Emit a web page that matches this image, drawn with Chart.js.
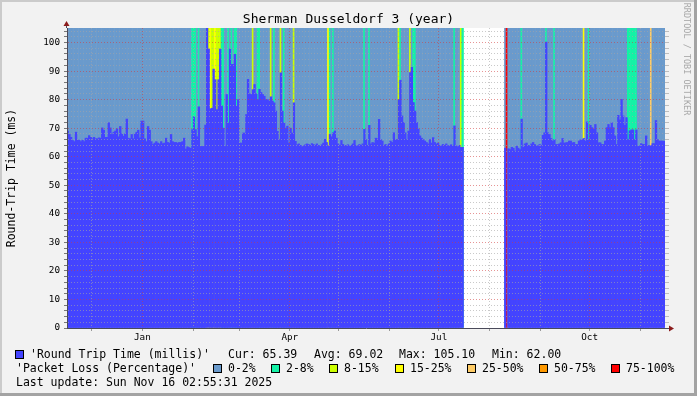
<!DOCTYPE html>
<html>
<head>
<meta charset="utf-8">
<script src="https://cdn.jsdelivr.net/npm/chart.js@4.4.1/dist/chart.umd.min.js"></script>
<style>
  html, body { margin: 0; padding: 0; background: #f2f2f2; }
  #wrap { position: relative; width: 697px; height: 396px; overflow: hidden; background: #f2f2f2;
          font-family: "DejaVu Sans Mono", monospace; color: #000; }
  #wrap canvas { position: absolute; left: 0; top: 0; }
  .edge { position: absolute; }
  .t { position: absolute; white-space: pre; font-size: 11.5px; line-height: 14px; }
  .sw { position: absolute; width: 7px; height: 7px; border: 1px solid #000; }
</style>
</head>
<body>
<div id="wrap">
  <canvas id="chart" width="697" height="396"></canvas>

  <div class="edge" style="left:0;top:0;width:697px;height:2px;background:#cbcbcb"></div>
  <div class="edge" style="left:0;top:0;width:2px;height:396px;background:#cbcbcb"></div>
  <div class="edge" style="left:694px;top:0;width:3px;height:396px;background:#a3a3a3"></div>
  <div class="edge" style="left:0;top:393px;width:697px;height:3px;background:#a3a3a3"></div>

  <div class="t" style="left:0;top:11px;width:697px;text-align:center;font-size:13px;line-height:16px">Sherman Dusseldorf 3 (year)</div>
  <div class="t" style="left:-89px;top:171px;width:200px;text-align:center;transform:rotate(-90deg)">Round-Trip Time (ms)</div>
  <div class="t" style="left:612px;top:53px;width:150px;text-align:center;font-size:8.5px;line-height:12px;color:#a8a8a8;transform:rotate(90deg)">RRDTOOL / TOBI OETIKER</div>

  <div id="legend"></div>
</div>

<script>
// ── Data ───────────────────────────────────────────────────────────────────
// one value per day, day 0 = Nov 16 2024

const TOP = 105.1;

const rttMillis = [
  69.0, 67.8, 66.8, 65.7, 65.3, 68.6, 65.8, 65.8, 65.3, 65.8, 65.3, 66.5, 66.5, 67.4, 66.8, 66.3, 66.8, 66.3, 66.3, 66.6, 66.5,
  70.1, 69.3, 66.8, 66.8, 71.9, 70.1, 67.8, 68.6, 69.0, 69.8,
  67.0, 70.6, 68.0, 67.2, 68.0, 73.2, 66.5, 66.3, 67.8, 66.3,
  68.0, 68.6, 69.3, 66.6, 72.5, 72.5, 66.3, 65.3, 70.6, 69.3,
  65.3, 64.3, 64.8, 65.3, 64.8, 64.5, 65.3, 64.6, 64.8, 66.5,
  65.0, 64.8, 67.8, 65.3, 65.0, 65.0, 64.8, 65.0, 65.0, 65.3,
  66.5, 62.7, 63.5, 63.2, 63.0, 69.5, 74.0, 69.5, 67.0, 77.5,
  63.6, 63.6, 63.6, 71.1, 105.1, 97.7, 76.8, 77.0, 90.7, 87.0,
  76.5, 87.0, 97.7, 77.8, 70.0, 63.6, 81.8, 71.8, 97.7, 92.4,
  92.4, 95.9, 77.7, 80.0, 64.8, 64.8, 68.3, 68.3, 74.8, 87.1,
  82.0, 81.8, 83.5, 85.3, 82.0, 80.0, 83.6, 82.5, 81.8, 81.2,
  80.0, 80.0, 79.5, 81.0, 79.5, 78.9, 76.0, 68.9, 66.0, 89.4,
  76.0, 71.8, 70.0, 70.7, 64.8, 70.0, 68.3, 78.9, 65.4, 64.2,
  64.5, 64.0, 63.5, 63.8, 64.2, 64.5, 64.3, 64.0, 64.6, 64.3,
  64.0, 64.5, 64.0, 63.7, 64.2, 64.8, 66.1, 65.0, 63.8, 67.8,
  67.0, 68.4, 69.0, 66.5, 64.5, 64.0, 65.7, 64.3, 64.0, 63.8,
  64.2, 63.7, 64.0, 64.5, 65.7, 64.0, 63.8, 64.3, 64.0, 64.5,
  69.6, 66.0, 64.0, 71.0, 64.5, 65.0, 64.8, 66.5, 66.3, 73.1,
  66.0, 65.5, 64.0, 64.3, 63.8, 64.5, 65.5, 65.0, 68.4, 66.0,
  66.0, 80.0, 86.8, 74.3, 72.0, 68.4, 66.0, 69.0, 89.5, 91.3,
  79.0, 76.0, 72.0, 69.7, 67.3, 66.5, 66.0, 65.5, 65.0, 64.5,
  66.0, 64.8, 66.7, 65.0, 64.5, 64.8, 64.0, 63.8, 64.3, 64.0,
  64.5, 63.8, 64.0, 64.2, 63.8, 70.8, 63.8, 63.5, 64.0, 63.3,
  63.3, null, null, null, null, null, null, null, null, null,
  null, null, null, null, null, null, null, null, null, null,
  null, null, null, null, null, null, 63.0, null, 62.8, 62.5,
  63.3, 63.0, 62.0, 63.7, 63.0, 62.5, 73.2, 63.3, 64.5, 64.8,
  64.0, 63.8, 64.5, 65.0, 64.3, 64.0, 63.7, 64.3, 64.0, 67.5,
  68.4, 100.2, 68.4, 67.8, 66.4, 65.5, 66.0, 64.3, 64.3, 64.5,
  64.9, 66.4, 64.8, 64.9, 65.0, 65.5, 65.5, 64.9, 65.0, 64.3,
  64.3, 65.5, 65.9, 66.0, 66.4, 65.5, 72.2, 65.9, 71.0, 70.2,
  69.6, 71.3, 68.4, 64.9, 64.9, 64.3, 64.3, 65.5, 70.2, 71.3,
  70.2, 71.9, 70.2, 67.3, 64.3, 74.5, 72.9, 80.1, 74.3, 71.0,
  73.7, 66.0, 69.1, 69.4, 69.4, 66.0, 69.4, 63.6, 63.8, 64.6,
  64.3, 64.3, 67.3, 63.9, 63.9, 63.9, 64.6, 64.6, 72.7, 66.0,
  65.5, 65.5, 65.5, 65.39,
];

// packet loss band per day: 0 = 0-2% ... 6 = 75-100%, null = no data
const lossLevel = [
  0, 0, 0, 0, 0, 0, 0, 0, 0, 0, 0, 0, 0, 0, 0, 0, 0, 0, 0, 0, 0,
  0, 0, 0, 0, 0, 0, 0, 0, 0, 0,
  0, 0, 0, 0, 0, 0, 0, 0, 0, 0,
  0, 0, 0, 0, 0, 0, 0, 0, 0, 0,
  0, 0, 0, 0, 0, 0, 0, 0, 0, 0,
  0, 0, 0, 0, 0, 0, 0, 0, 0, 0,
  0, 0, 0, 0, 0, 1, 1, 1, 0, 1,
  0, 0, 0, 0, 3, 2, 3, 2, 2, 3,
  2, 2, 2, 1, 1, 0, 0, 1, 0, 1,
  0, 1, 1, 0, 0, 0, 0, 0, 0, 0,
  0, 0, 2, 0, 0, 1, 1, 0, 0, 0,
  0, 0, 0, 2, 0, 1, 0, 0, 0, 2,
  0, 1, 0, 0, 0, 0, 0, 2, 0, 0,
  0, 0, 0, 0, 0, 0, 0, 0, 0, 0,
  0, 0, 0, 0, 0, 0, 0, 0, 3, 1,
  0, 1, 0, 0, 0, 0, 0, 0, 0, 0,
  0, 0, 0, 0, 0, 0, 0, 0, 0, 0,
  1, 0, 0, 1, 0, 0, 0, 0, 0, 0,
  0, 0, 0, 0, 0, 0, 0, 0, 0, 0,
  0, 2, 1, 0, 0, 0, 0, 0, 2, 0,
  1, 1, 0, 0, 0, 0, 0, 0, 0, 0,
  0, 0, 0, 0, 0, 0, 0, 0, 0, 0,
  0, 0, 0, 0, 0, 1, 0, 0, 0, 2,
  1, null, null, null, null, null, null, null, null, null,
  null, null, null, null, null, null, null, null, null, null,
  null, null, null, null, null, null, 0, 6, 0, 0,
  0, 0, 0, 0, 0, 0, 1, 0, 0, 0,
  0, 0, 0, 0, 0, 0, 0, 0, 0, 0,
  0, 1, 0, 0, 0, 0, 1, 0, 0, 0,
  0, 0, 0, 0, 0, 0, 0, 0, 0, 0,
  0, 0, 0, 0, 3, 0, 0, 1, 0, 0,
  0, 0, 0, 0, 0, 0, 0, 0, 0, 0,
  0, 0, 0, 0, 0, 0, 0, 0, 0, 0,
  0, 1, 1, 1, 1, 1, 1, 0, 0, 0,
  0, 0, 0, 0, 0, 4, 0, 0, 0, 0,
  0, 0, 0, 0,
];

const lossLabels = ['0-2%', '2-8%', '8-15%', '15-25%', '25-50%', '50-75%', '75-100%'];
const lossColors = ['#6a9acc', '#14f2a6', '#ccff00', '#ffff00', '#ffcc66', '#ff9900', '#ff0000'];

// month starts (day index) and their labels
const monthDays   = [15, 46, 77, 105, 136, 166, 197, 227, 258, 289, 319, 350];
const monthLabels = ['', 'Jan', '', '', 'Apr', '', '', 'Jul', '', '', 'Oct', ''];

const yGridStep  = 2;
const yLabelStep = 10;

const rttStats = { cur: '65.39', avg: '69.02', max: '105.10', min: '62.00' };

// ── Styles ─────────────────────────────────────────────────────────────────

const RTT_COLOR   = '#4444ff';
const MINOR_GRID  = 'rgba(165,165,165,0.6)';
const MAJOR_GRID  = 'rgba(210,60,60,0.55)';
const AXIS_COLOR  = '#4a4a5a';
const ARROW_COLOR = '#8b1c1c';
const FONT        = 'DejaVu Sans Mono';

// ── Legend (html text) ─────────────────────────────────────────────────────

const legendEl = document.getElementById('legend');

function addText(txt, left, top) {
  const d = document.createElement('div');
  d.className = 't';
  d.style.left = left + 'px';
  d.style.top = top + 'px';
  d.textContent = txt;
  legendEl.appendChild(d);
}

function addSwatch(color, left, top) {
  const d = document.createElement('div');
  d.className = 'sw';
  d.style.left = left + 'px';
  d.style.top = top + 'px';
  d.style.background = color;
  legendEl.appendChild(d);
}

addSwatch(RTT_COLOR, 15, 350);
addText("'Round Trip Time (millis)'", 30, 347);
addText('Cur: ' + rttStats.cur, 228, 347);
addText('Avg: ' + rttStats.avg, 314, 347);
addText('Max: ' + rttStats.max, 399, 347);
addText('Min: ' + rttStats.min, 492, 347);

addText("'Packet Loss (Percentage)'", 16, 361);
const swatchX = [213, 271, 329, 395, 467, 539, 611];
lossLabels.forEach((lbl, i) => {
  addSwatch(lossColors[i], swatchX[i], 364);
  addText(lbl, swatchX[i] + 15, 361);
});

addText('Last update: Sun Nov 16 02:55:31 2025', 16, 375);

// ── Chart ──────────────────────────────────────────────────────────────────

const canvasBg = {
  id: 'canvasBg',
  beforeDraw(chart) {
    const { ctx, chartArea: a } = chart;
    ctx.save();
    ctx.fillStyle = '#ffffff';
    ctx.fillRect(a.left, a.top, a.right - a.left, a.bottom - a.top);
    ctx.restore();
  },
};

const axisArrows = {
  id: 'axisArrows',
  afterDraw(chart) {
    const { ctx, chartArea: a } = chart;
    ctx.save();
    ctx.strokeStyle = AXIS_COLOR;
    ctx.lineWidth = 1;
    ctx.beginPath();
    ctx.moveTo(a.right, a.bottom + 0.5);
    ctx.lineTo(a.right + 5, a.bottom + 0.5);
    ctx.moveTo(a.left - 0.5, a.top);
    ctx.lineTo(a.left - 0.5, a.top - 3);
    ctx.stroke();
    ctx.fillStyle = ARROW_COLOR;
    ctx.beginPath();
    ctx.moveTo(a.right + 4, a.bottom - 2.5);
    ctx.lineTo(a.right + 9, a.bottom + 0.5);
    ctx.lineTo(a.right + 4, a.bottom + 3.5);
    ctx.closePath();
    ctx.fill();
    ctx.beginPath();
    ctx.moveTo(a.left - 3.5, a.top - 2);
    ctx.lineTo(a.left - 0.5, a.top - 7);
    ctx.lineTo(a.left + 2.5, a.top - 2);
    ctx.closePath();
    ctx.fill();
    ctx.restore();
  },
};

function yTickList() {
  const out = [];
  for (let v = 0; v < TOP; v += yGridStep) out.push({ value: v });
  return out;
}

const yGridColor = (c) => (c.tick && c.tick.value % yLabelStep === 0 ? MAJOR_GRID : MINOR_GRID);

new Chart(document.getElementById('chart'), {
  type: 'bar',
  data: {
    datasets: [
      {
        label: 'Round Trip Time (millis)',
        data: rttMillis.map((v, i) => ({ x: i + 0.5, y: v })),
        backgroundColor: RTT_COLOR,
        borderWidth: 0,
        grouped: false,
        barPercentage: 1,
        categoryPercentage: 1,
        order: 1,
      },
      {
        label: 'Packet Loss (Percentage)',
        data: lossLevel.map((l, i) => ({ x: i + 0.5, y: l === null ? null : TOP })),
        backgroundColor: lossLevel.map(l => (l === null ? 'rgba(0,0,0,0)' : lossColors[l])),
        borderWidth: 0,
        grouped: false,
        barPercentage: 1,
        categoryPercentage: 1,
        order: 2,
      },
    ],
  },
  options: {
    responsive: false,
    animation: false,
    devicePixelRatio: 1,
    layout: { padding: { left: 0, right: 0, top: 28, bottom: 0 } },
    plugins: { legend: { display: false }, tooltip: { enabled: false } },
    scales: {
      x: {
        type: 'linear',
        min: 0,
        max: 365,
        offset: false,
        afterFit: (s) => { s.height = 68; },
        afterBuildTicks: (s) => { s.ticks = monthDays.map(v => ({ value: v })); },
        ticks: {
          autoSkip: false,
          maxRotation: 0,
          padding: 1,
          color: '#000',
          font: { family: FONT, size: 9.3 },
          callback: (v, i) => monthLabels[i],
        },
        grid: {
          z: 1,
          offset: false,
          color: (c) => (monthLabels[c.index] ? MAJOR_GRID : MINOR_GRID),
          tickColor: '#9a9a9a',
          tickLength: 3,
        },
        border: { display: true, color: AXIS_COLOR, width: 1, dash: [1, 2], z: 2 },
      },
      y: {
        position: 'left',
        min: 0,
        max: TOP,
        afterFit: (s) => { s.width = 67; },
        afterBuildTicks: (s) => { s.ticks = yTickList(); },
        ticks: {
          autoSkip: false,
          padding: 4,
          color: '#000',
          font: { family: FONT, size: 9.3 },
          callback: (v) => (v % yLabelStep === 0 ? String(v) : ''),
        },
        grid: { z: 1, color: yGridColor, tickColor: '#777', tickLength: 3 },
        border: { display: true, color: AXIS_COLOR, width: 1, dash: [1, 2], z: 2 },
      },
      y2: {
        position: 'right',
        min: 0,
        max: TOP,
        afterFit: (s) => { s.width = 32; },
        afterBuildTicks: (s) => { s.ticks = yTickList(); },
        ticks: { display: false, autoSkip: false },
        grid: { drawOnChartArea: false, tickColor: '#bdbdbd', tickLength: 4 },
        border: { display: false },
      },
    },
  },
  plugins: [canvasBg, axisArrows],
});
</script>
</body>
</html>
